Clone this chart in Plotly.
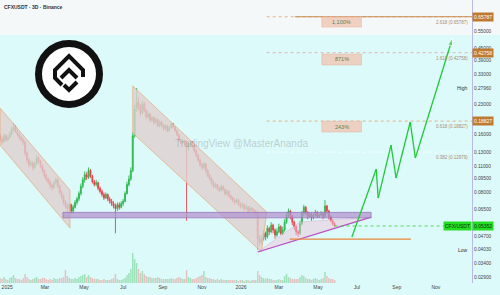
import math
import pandas as pd
import plotly.graph_objects as go

# ---------------- data ----------------
start_date = "2024-12-21"
first_open = 0.158
closes = [0.152, 0.147, 0.158, 0.150, 0.155,
          0.162, 0.170, 0.176, 0.166, 0.160, 0.155, 0.150, 0.146,
          0.128,
          0.118, 0.112, 0.114, 0.108, 0.113, 0.121, 0.116, 0.110,
          0.104, 0.098, 0.094, 0.091,
          0.087, 0.085, 0.090, 0.093, 0.086,
          0.080, 0.076, 0.071, 0.068, 0.066,
          0.069, 0.064, 0.067, 0.071,
          0.074, 0.079, 0.086, 0.093, 0.099, 0.096,
          0.104,
          0.097, 0.091, 0.088, 0.090, 0.084,
          0.081, 0.078, 0.075, 0.078, 0.074, 0.072, 0.070, 0.068, 0.066, 0.069, 0.067, 0.070, 0.072,
          0.079, 0.088, 0.094, 0.104,
          0.158, 0.218, 0.236,
          0.225, 0.208, 0.232, 0.215, 0.198, 0.205, 0.190, 0.196,
          0.185, 0.192, 0.178, 0.186, 0.180, 0.172, 0.178, 0.168, 0.174,
          0.182, 0.175, 0.168, 0.160, 0.150, 0.146, 0.148, 0.144,
          0.138,
          0.142, 0.146, 0.140, 0.132, 0.125,
          0.118, 0.112, 0.108, 0.113, 0.104, 0.098, 0.094, 0.090, 0.086,
          0.088, 0.084, 0.082, 0.086, 0.083, 0.079, 0.081, 0.077, 0.075,
          0.073, 0.071, 0.073, 0.070, 0.068, 0.069, 0.066, 0.067, 0.064, 0.066, 0.065, 0.063, 0.063,
          0.046,
          0.044, 0.046, 0.049, 0.047, 0.052, 0.050, 0.054, 0.051, 0.048, 0.050, 0.053, 0.049, 0.051,
          0.056, 0.061, 0.064,
          0.060, 0.056, 0.053, 0.050, 0.049,
          0.055, 0.062, 0.067,
          0.063, 0.060, 0.062, 0.059, 0.061, 0.063, 0.060, 0.061, 0.062, 0.060,
          0.068, 0.064,
          0.060, 0.057, 0.055, 0.05352]
highs = [0.162, 0.156, 0.163, 0.161, 0.159, 0.166, 0.175, 0.184, 0.179, 0.170,
         0.164, 0.158, 0.154, 0.149, 0.131, 0.121, 0.117, 0.116, 0.116, 0.125,
         0.124, 0.118, 0.112, 0.106, 0.100, 0.096, 0.093, 0.089, 0.092, 0.096,
         0.095, 0.088, 0.082, 0.078, 0.073, 0.070, 0.071, 0.070, 0.069, 0.073,
         0.076, 0.081, 0.089, 0.096, 0.103, 0.102, 0.108, 0.106, 0.099, 0.093,
         0.093, 0.091, 0.086, 0.083, 0.080, 0.080, 0.079, 0.076, 0.074, 0.072,
         0.070, 0.071, 0.071, 0.072, 0.074, 0.081, 0.091, 0.098, 0.108, 0.165,
         0.228, 0.280, 0.250, 0.230, 0.240, 0.238, 0.218, 0.212, 0.207, 0.200,
         0.199, 0.197, 0.194, 0.190, 0.189, 0.182, 0.181, 0.180, 0.177, 0.186,
         0.184, 0.177, 0.170, 0.162, 0.152, 0.151, 0.150, 0.147, 0.145, 0.149,
         0.148, 0.142, 0.134, 0.127, 0.120, 0.114, 0.116, 0.114, 0.106, 0.100,
         0.096, 0.092, 0.090, 0.089, 0.086, 0.088, 0.087, 0.084, 0.083, 0.082,
         0.078, 0.076, 0.074, 0.075, 0.074, 0.071, 0.071, 0.070, 0.069, 0.068,
         0.068, 0.067, 0.066, 0.065, 0.064, 0.048, 0.048, 0.051, 0.050, 0.054,
         0.053, 0.056, 0.055, 0.052, 0.052, 0.055, 0.054, 0.053, 0.058, 0.063,
         0.066, 0.065, 0.061, 0.057, 0.054, 0.051, 0.057, 0.064, 0.069, 0.068,
         0.064, 0.063, 0.063, 0.062, 0.065, 0.064, 0.062, 0.064, 0.063, 0.073,
         0.069, 0.065, 0.061, 0.058, 0.056]
lows = [0.148, 0.142, 0.145, 0.147, 0.148, 0.152, 0.159, 0.167, 0.163, 0.157,
        0.151, 0.147, 0.141, 0.124, 0.114, 0.108, 0.109, 0.104, 0.106, 0.111,
        0.113, 0.107, 0.101, 0.095, 0.091, 0.088, 0.084, 0.082, 0.083, 0.088,
        0.084, 0.078, 0.074, 0.069, 0.066, 0.063, 0.064, 0.062, 0.062, 0.066,
        0.069, 0.072, 0.077, 0.084, 0.090, 0.093, 0.094, 0.095, 0.089, 0.086,
        0.086, 0.082, 0.079, 0.076, 0.073, 0.074, 0.072, 0.070, 0.068, 0.066,
        0.049, 0.064, 0.065, 0.066, 0.068, 0.071, 0.078, 0.086, 0.092, 0.102,
        0.154, 0.210, 0.215, 0.200, 0.204, 0.210, 0.192, 0.194, 0.186, 0.186,
        0.180, 0.182, 0.175, 0.175, 0.176, 0.168, 0.169, 0.165, 0.165, 0.172,
        0.172, 0.165, 0.157, 0.147, 0.143, 0.143, 0.141, 0.057, 0.132, 0.139,
        0.137, 0.129, 0.122, 0.115, 0.109, 0.105, 0.106, 0.101, 0.096, 0.092,
        0.088, 0.084, 0.084, 0.082, 0.080, 0.081, 0.081, 0.077, 0.077, 0.075,
        0.073, 0.071, 0.069, 0.070, 0.068, 0.066, 0.066, 0.064, 0.065, 0.062,
        0.063, 0.063, 0.061, 0.061, 0.0403, 0.042, 0.043, 0.045, 0.045, 0.046,
        0.048, 0.049, 0.049, 0.046, 0.047, 0.049, 0.048, 0.048, 0.050, 0.055,
        0.059, 0.058, 0.054, 0.051, 0.048, 0.047, 0.048, 0.054, 0.060, 0.061,
        0.058, 0.059, 0.057, 0.058, 0.060, 0.059, 0.059, 0.060, 0.058, 0.059,
        0.062, 0.058, 0.056, 0.054, 0.0530]
volumes = [5, 4, 6, 4, 3, 5, 6, 8, 5, 4,
           4, 3, 5, 9, 6, 4, 3, 4, 5, 6,
           4, 4, 5, 5, 4, 3, 4, 3, 5, 4,
           4, 5, 5, 6, 13, 7, 5, 4, 4, 5,
           4, 6, 7, 8, 9, 6, 8, 6, 5, 4,
           4, 4, 3, 3, 4, 3, 3, 3, 4, 5,
           9, 4, 3, 3, 4, 5, 8, 10, 14, 30,
           24, 20, 14, 10, 12, 9, 7, 6, 6, 5,
           5, 5, 6, 5, 4, 4, 4, 4, 4, 5,
           4, 4, 5, 6, 5, 4, 4, 13, 6, 5,
           4, 4, 5, 6, 7, 8, 12, 6, 5, 5,
           4, 4, 3, 4, 3, 4, 3, 3, 3, 3,
           3, 3, 3, 3, 2, 3, 3, 2, 3, 3,
           2, 3, 3, 3, 12, 8, 6, 5, 4, 5,
           4, 4, 3, 3, 3, 4, 3, 3, 7, 9,
           6, 5, 4, 4, 4, 4, 6, 8, 7, 5,
           4, 4, 3, 4, 5, 4, 3, 4, 5, 11,
           7, 5, 4, 4, 3]

# axis
x_range = ["2024-12-20 20:00", "2026-12-27 10:00"]
y_log_range = [-1.5685, -0.0946]
ytick_vals = [0.80, 0.55, 0.45, 0.39, 0.33, 0.2796, 0.23, 0.16, 0.13, 0.11, 0.095,
              0.08, 0.065, 0.047, 0.0403, 0.034, 0.029]
ytick_text = ["0.80000", "0.55000", "0.45000", "0.39000", "0.33000", "0.27960", "0.23000",
              "0.16000", "0.13000", "0.11000", "0.09500", "0.08000", "0.06500", "0.04700",
              "0.04030", "0.03400", "0.02900"]
xtick_vals = ["2025-01-01", "2025-03-01", "2025-05-01", "2025-07-01", "2025-09-01", "2025-11-01",
              "2026-01-01", "2026-03-01", "2026-05-01", "2026-07-01", "2026-09-01", "2026-11-01"]
xtick_text = ["2025", "Mar", "May", "Jul", "Sep", "Nov", "2026", "Mar", "May", "Jul", "Sep", "Nov"]

# drawings
ch1_dates = ["2024-12-21", "2025-04-09", "2025-04-09", "2024-12-21"]
ch1_prices = [0.220, 0.0823, 0.0522, 0.141]
ch2_dates = ["2025-07-16", "2026-02-10", "2026-02-02", "2025-07-16"]
ch2_prices = [0.287, 0.0633, 0.0392, 0.163]
zone_dates = ["2025-03-29", "2026-07-23"]
zone_prices = [0.0590, 0.0630]
tri_dates = ["2026-01-27", "2026-07-23", "2026-04-03"]
tri_prices = [0.0392, 0.0595, 0.0561]
support_dates = ["2026-03-18", "2026-09-23"]
support_price = 0.0457
proj_dates = ["2026-06-23", "2026-07-31", "2026-08-03", "2026-08-23", "2026-08-31",
              "2026-09-22", "2026-09-30", "2026-11-27"]
proj_prices = [0.0469, 0.1059, 0.0748, 0.141, 0.0951, 0.1862, 0.121, 0.509]

fib_levels = [0.65787, 0.42758, 0.18827, 0.12979]
fib_labels = ["2.618 (0.65787)", "1.618 (0.42758)", "0.618 (0.18827)", "0.382 (0.12979)"]
fib_start = "2026-02-10"
fib_solid_start = "2026-03-26"
pct_labels = ["1,100%", "871%", "243%"]
pct_tops = [0.65787, 0.421, 0.188]
pct_bottoms = [0.581, 0.369, 0.165]
pct_dates = ["2026-05-07", "2026-07-08"]
axis_boxes = [0.65787, 0.42758, 0.18827]
high_price, low_price = 0.2796, 0.0403
last_price = 0.05352

# ---------------- figure ----------------
dates = pd.date_range(start_date, periods=len(closes), freq="3D")
opens = [first_open] + closes[:-1]
UP, DN = "#2db84f", "#e5424b"
vol_colors = ["rgba(60,190,90,0.40)" if c >= o else "rgba(235,90,90,0.35)" for o, c in zip(opens, closes)]

fig = go.Figure()

# channels
for dts, prs in [(ch1_dates, ch1_prices), (ch2_dates, ch2_prices)]:
    fig.add_trace(go.Scatter(x=dts + [dts[0]], y=prs + [prs[0]], fill="toself", mode="lines",
                             fillcolor="rgba(222,208,208,0.8)",
                             line=dict(color="rgba(232,170,120,0.9)", width=0.8), hoverinfo="skip"))
# triangle
fig.add_trace(go.Scatter(x=tri_dates + [tri_dates[0]], y=tri_prices + [tri_prices[0]], fill="toself",
                         mode="lines", fillcolor="rgba(235,195,215,0.5)",
                         line=dict(color="rgba(220,150,200,0.6)", width=0.6), hoverinfo="skip"))
fig.add_trace(go.Scatter(x=tri_dates[:2], y=tri_prices[:2], mode="lines",
                         line=dict(color="#b84fc4", width=1.1), hoverinfo="skip"))
# zone
fig.add_trace(go.Scatter(x=[zone_dates[0], zone_dates[1], zone_dates[1], zone_dates[0], zone_dates[0]],
                         y=[zone_prices[0], zone_prices[0], zone_prices[1], zone_prices[1], zone_prices[0]],
                         fill="toself", mode="lines", fillcolor="rgba(178,150,205,0.75)",
                         line=dict(color="rgba(150,110,190,0.9)", width=0.8), hoverinfo="skip"))
# support
fig.add_trace(go.Scatter(x=support_dates, y=[support_price] * 2, mode="lines",
                         line=dict(color="#e8873a", width=1.2), hoverinfo="skip"))

# fib lines
fib_colors = ["rgba(220,140,80,0.8)", "rgba(230,140,140,0.8)", "rgba(225,140,70,0.8)", "rgba(255,255,255,0.9)"]
for lvl, col in zip(fib_levels, fib_colors):
    fig.add_trace(go.Scatter(x=[fib_start, x_range[1]], y=[lvl, lvl], mode="lines",
                             line=dict(color=col, width=0.8, dash="dot"), hoverinfo="skip"))
fig.add_trace(go.Scatter(x=[fib_solid_start, x_range[1]], y=[fib_levels[0]] * 2, mode="lines",
                         line=dict(color="#c98a4a", width=1.2), hoverinfo="skip"))

# current price line
fig.add_trace(go.Scatter(x=[dates[-1], x_range[1]], y=[last_price] * 2, mode="lines",
                         line=dict(color="#2bd12b", width=0.8, dash="dot"), hoverinfo="skip"))

# candles
fig.add_trace(go.Candlestick(x=dates, open=opens, high=highs, low=lows, close=closes,
                             increasing=dict(line=dict(color=UP, width=0.9), fillcolor=UP),
                             decreasing=dict(line=dict(color=DN, width=0.9), fillcolor=DN),
                             whiskerwidth=0, hoverinfo="skip"))

# projection
fig.add_trace(go.Scatter(x=proj_dates, y=proj_prices, mode="lines+markers",
                         line=dict(color="#22c93c", width=1.3),
                         marker=dict(symbol="arrow", size=[0] * (len(proj_dates) - 1) + [8],
                                     angleref="previous", color="#22c93c"),
                         hoverinfo="skip"))

# volume
fig.add_trace(go.Bar(x=dates, y=volumes, marker=dict(color=vol_colors, line=dict(width=0)),
                     yaxis="y2", hoverinfo="skip"))

shapes = []
annotations = []

# background band
shapes.append(dict(type="rect", xref="paper", yref="paper", x0=-0.01, x1=1.07, y0=1 - 35 / 283, y1=1.01,
                   fillcolor="#f5f8f8", line=dict(width=0), layer="below"))

# percent boxes
for lab, top, bot in zip(pct_labels, pct_tops, pct_bottoms):
    shapes.append(dict(type="rect", xref="x", yref="y", x0=pct_dates[0], x1=pct_dates[1], y0=bot, y1=top,
                       fillcolor="rgba(240,195,175,0.75)", line=dict(color="rgba(230,170,150,0.8)", width=0.5)))
    annotations.append(dict(x="2026-06-07", y=(math.log10(top) + math.log10(bot)) / 2, xref="x", yref="y",
                            text=lab, showarrow=False, font=dict(size=5.5, color="#5f7d4c", family="Liberation Sans")))

# fib labels
for lvl, lab in zip(fib_levels, fib_labels):
    annotations.append(dict(x=1, y=math.log10(lvl), xref="paper", yref="y", xanchor="right", yanchor="top",
                            xshift=-2, yshift=-1, text=lab, showarrow=False,
                            font=dict(size=4.5, color="#a88a78", family="Liberation Sans")))

# axis price boxes
for lvl in axis_boxes:
    annotations.append(dict(x=1, y=math.log10(lvl), xref="paper", yref="y", xanchor="left", yanchor="middle",
                            xshift=0, text=f"{lvl:.5f}", showarrow=False, bgcolor="#bf7a30", borderpad=1,
                            font=dict(size=5, color="white", family="Liberation Sans")))
annotations.append(dict(x=1, y=math.log10(last_price), xref="paper", yref="y", xanchor="left",
                        yanchor="middle", text=f"{last_price:.5f}", showarrow=False, bgcolor="#22dd22",
                        borderpad=1, font=dict(size=5, color="#103010", family="Liberation Sans")))
annotations.append(dict(x=1, y=math.log10(last_price), xref="paper", yref="y", xanchor="right",
                        yanchor="middle", text="CFX/USDT", showarrow=False, bgcolor="#22dd22",
                        borderpad=1, font=dict(size=5, color="#103010", family="Liberation Sans")))
for lvl, lab in [(high_price, "High"), (low_price, "Low")]:
    annotations.append(dict(x=1, y=math.log10(lvl), xref="paper", yref="y", xanchor="right",
                            yanchor="middle", xshift=-2, text=lab, showarrow=False,
                            font=dict(size=5, color="#333333", family="Liberation Sans")))

# title + watermark
annotations.append(dict(x=0.004, y=1, xref="paper", yref="paper", xanchor="left", yanchor="top", yshift=-2,
                        text="<b>CFXUSDT · 3D · Binance</b>", showarrow=False,
                        font=dict(size=5, color="#333333", family="Liberation Sans")))
annotations.append(dict(x=310 / 472, y=1 - 143 / 283, xref="paper", yref="paper", xanchor="right",
                        yanchor="middle", text="TradingView @MasterAnanda", showarrow=False,
                        font=dict(size=10, color="rgba(120,120,120,0.35)", family="Liberation Sans")))

# logo (paper coords)
W, H = 472.0, 283.0
def px(x, y):
    return f"{x / W:.5f},{1 - y / H:.5f}"
cx, cy, r = 69, 74, 30.5
shapes.append(dict(type="circle", xref="paper", yref="paper", x0=(cx - r) / W, x1=(cx + r) / W,
                   y0=1 - (cy + r) / H, y1=1 - (cy - r) / H, fillcolor="white",
                   line=dict(color="#111111", width=7)))
glyph_paths = [
    [(62, 85), (55, 78), (55, 70), (69, 56), (83, 70), (83, 77)],
    [(61, 78), (69, 70), (77, 78)],
    [(64, 85), (69, 90), (77, 82)],
]
for pts in glyph_paths:
    d = "M " + " L ".join(px(x, y) for x, y in pts)
    shapes.append(dict(type="path", xref="paper", yref="paper", path=d,
                       line=dict(color="#111111", width=4)))

fig.update_layout(
    width=500, height=295, margin=dict(l=0, r=28, t=0, b=12),
    paper_bgcolor="#ddfafa", plot_bgcolor="#ddfafa", showlegend=False,
    shapes=shapes, annotations=annotations, bargap=0.25,
    xaxis=dict(range=x_range, type="date", rangeslider=dict(visible=False), showgrid=False, zeroline=False,
               tickvals=xtick_vals, ticktext=xtick_text, ticks="", tickfont=dict(size=5, color="#444444",
               family="Liberation Sans"), showline=False),
    yaxis=dict(type="log", range=y_log_range, side="right", showgrid=False, zeroline=False,
               tickvals=ytick_vals, ticktext=ytick_text, ticks="",
               tickfont=dict(size=4.8, color="#444444", family="Liberation Sans"),
               showline=True, linecolor="#b9b9ec", linewidth=1),
    yaxis2=dict(range=[0, 283], overlaying="y", visible=False, fixedrange=True),
)

fig.write_html("out.html")
